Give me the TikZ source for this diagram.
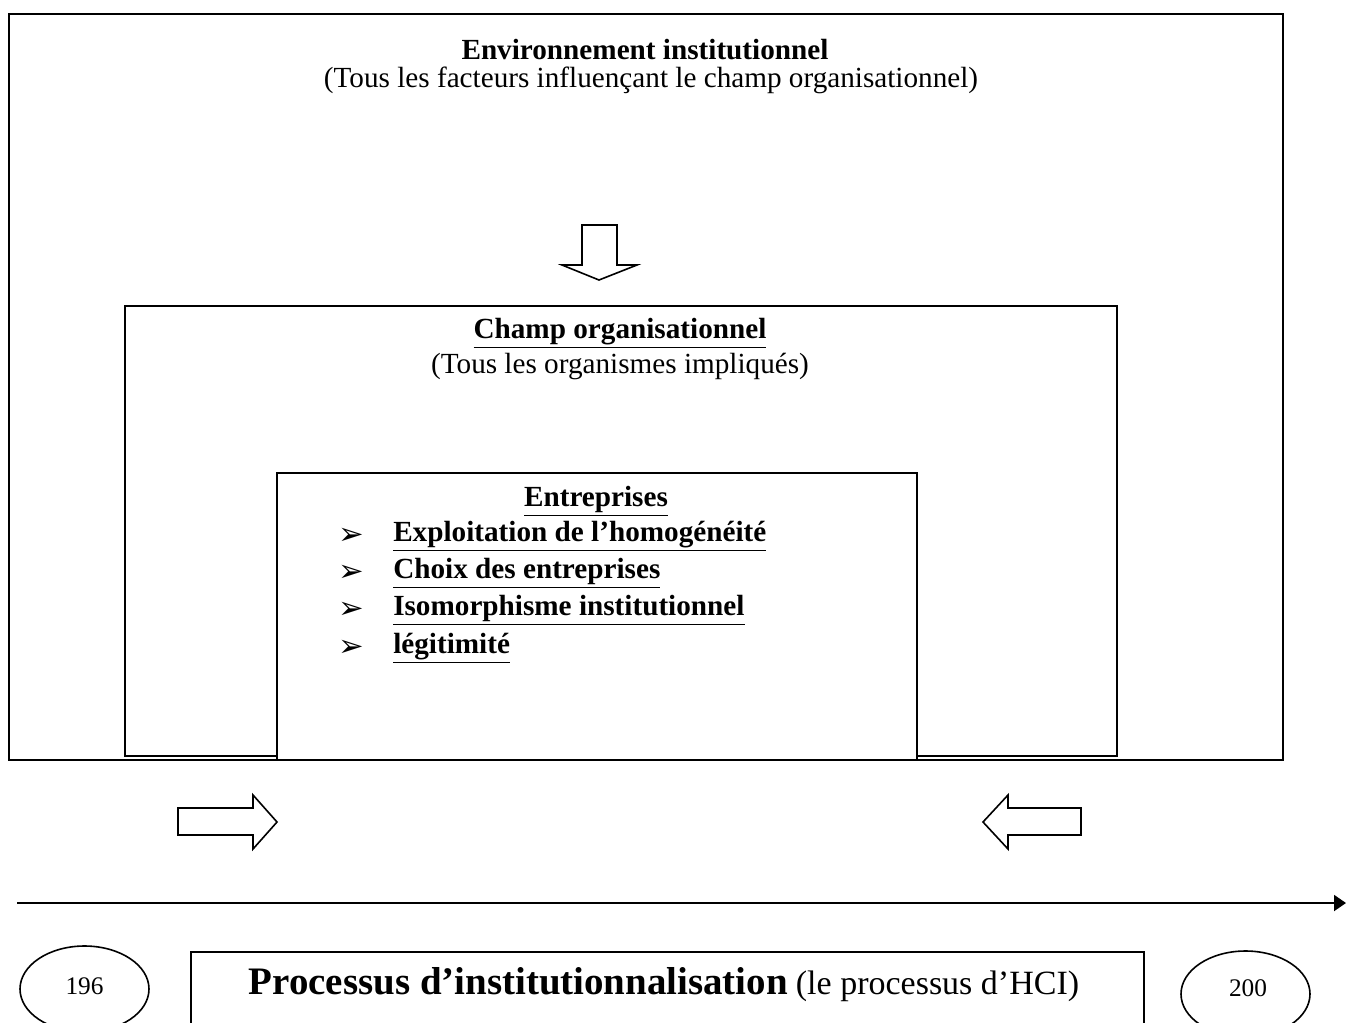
\documentclass[tikz,border=0pt]{standalone}
\usepackage{fontspec}
\setmainfont{Liberation Serif}
\newfontfamily\symfont{DejaVu Sans}
\usetikzlibrary{arrows.meta,shapes.geometric}
\tikzset{
  box/.style={draw, line width=1.5pt, inner sep=0pt, anchor=north west},
  oval/.style={draw, ellipse, line width=1.2pt, inner sep=0pt, minimum width=96.75pt, minimum height=64.5pt},
  blockarrow/.style={draw, line width=1.2pt, fill=white, line join=miter},
  maintxt/.style={inner sep=0pt, font=\fontsize{21.9pt}{26pt}\selectfont},
  boldtxt/.style={inner sep=0pt, font=\fontsize{21.9pt}{26pt}\selectfont\bfseries},
  bultxt/.style={inner sep=0pt, anchor=west, font=\fontsize{21.9pt}{26pt}\selectfont\bfseries},
  bulsym/.style={inner sep=0pt, anchor=west, font=\fontsize{23pt}{26pt}\symfont\bfseries},
  numtxt/.style={inner sep=0pt, font=\fontsize{19pt}{22pt}\selectfont},
}
\begin{document}
\begin{tikzpicture}[x=0.75pt,y=-0.75pt]
\useasboundingbox (0,0) rectangle (1346,1022);
% boxes
\node[box, minimum width=955.5pt, minimum height=559.5pt] (outer) at (8,13) {};
\node[box, minimum width=744pt, minimum height=337.5pt] (middle) at (124,305) {};
\node[box, fill=white, minimum width=480pt, minimum height=215.25pt] (inner) at (276,472) {};
\node[box, line width=1.2pt, minimum width=714.75pt, minimum height=70pt] (proc) at (190,951) {};
% ovals
\node[oval] (y196) at (84.5,989) {};
\node[oval] (y200) at (1245.5,994) {};
\node[numtxt] (t196) at (84.5,986) {196};
\node[numtxt] (t200) at (1248,988) {200};
% texts
\node[boldtxt] (envt) at (645,50) {Environnement institutionnel};
\node[maintxt] (envs) at (651,80) {(Tous les facteurs influençant le champ organisationnel)};
\node[boldtxt] (champt) at (620,333) {\underline{Champ organisationnel}};
\node[maintxt] (champs) at (620,366) {(Tous les organismes impliqués)};
\node[boldtxt] (entt) at (596,501) {\underline{Entreprises}};
\foreach \i/\yy/\txt in {1/536/{Exploitation de l’homogénéité},2/573/{Choix des entreprises},3/610/{Isomorphisme institutionnel},4/648/{légitimité}}{
  \node[bulsym] (b\i) at (338,\yy) {➢};
  \node[bultxt] (l\i) at (393,\yy) {\underline{\txt}};
}
\node[inner sep=0pt] (proct) at (664,985) {{\fontsize{29.2pt}{32pt}\selectfont\bfseries Processus d’institutionnalisation}\hspace{6pt}{\fontsize{25.5pt}{30pt}\selectfont(le processus d’HCI)}};
% block arrows
\draw[blockarrow] (582,225) -- (617,225) -- (617,265) -- (637,265) -- (599,280) -- (562,265) -- (582,265) -- cycle;
\draw[blockarrow] (178,808) -- (253,808) -- (253,795) -- (277,822) -- (253,849) -- (253,835) -- (178,835) -- cycle;
\draw[blockarrow] (1081,808) -- (1008,808) -- (1008,795) -- (983,822) -- (1008,849) -- (1008,835) -- (1081,835) -- cycle;
% timeline
\coordinate (tl0) at (17,903);
\coordinate (tl1) at (1346,903);
\draw[line width=1.5pt, -{Triangle[length=9pt,width=12pt]}] (tl0) -- (tl1);
\end{tikzpicture}
\end{document}
